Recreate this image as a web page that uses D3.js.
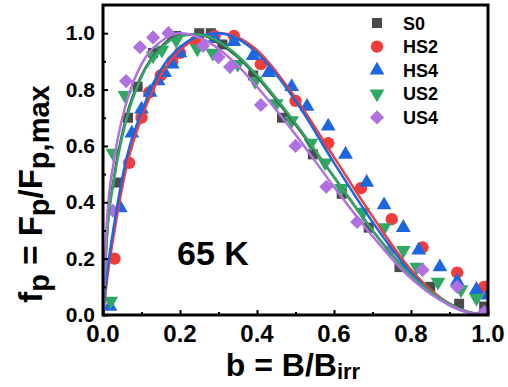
<!DOCTYPE html>
<html>
<head>
<meta charset="utf-8">
<script src="https://cdn.jsdelivr.net/npm/d3@7"></script>
<style>
  body { margin: 0; background: #fff; }
  svg { display: block; font-family: "Liberation Sans", Arial, sans-serif; font-weight: bold; }
</style>
</head>
<body>
<svg id="chart" width="508" height="387"></svg>
<script>
// series names and colours
const names = ["S0", "HS2", "HS4", "US2", "US4"];
const colors = ["#4a4a4a", "#f23c3c", "#1c67e0", "#2fa863", "#b070e0"];

// measured points [b, fp]
const S0 = [[0.04,0.47],[0.065,0.70],[0.09,0.81],[0.13,0.93],[0.19,0.99],[0.25,1.0],[0.28,1.0],[0.31,0.96],
  [0.39,0.85],[0.465,0.70],[0.545,0.57],[0.62,0.43],[0.69,0.31],[0.77,0.17],[0.85,0.10],[0.925,0.04],[0.99,0.03]];
const HS2 = [[0.03,0.20],[0.068,0.54],[0.10,0.70],[0.12,0.79],[0.15,0.85],[0.18,0.90],[0.20,0.93],[0.24,0.97],
  [0.29,0.99],[0.34,0.99],[0.41,0.89],[0.50,0.76],[0.585,0.61],[0.67,0.45],[0.75,0.34],[0.83,0.24],[0.92,0.15],[0.99,0.10]];
const HS4 = [[0.018,0.03],[0.045,0.38],[0.075,0.645],[0.10,0.73],[0.122,0.79],[0.143,0.83],[0.16,0.86],[0.18,0.89],
  [0.20,0.93],[0.29,0.98],[0.34,0.97],[0.39,0.92],[0.43,0.86],[0.49,0.81],[0.53,0.74],[0.585,0.67],[0.63,0.57],
  [0.685,0.47],[0.73,0.39],[0.78,0.31],[0.82,0.23],[0.875,0.17],[0.92,0.12],[0.97,0.09],[1.0,0.07]];
const US2 = [[0.02,0.05],[0.026,0.575],[0.057,0.78],[0.13,0.92],[0.153,0.94],[0.19,0.975],[0.245,0.945],[0.285,0.93],
  [0.35,0.89],[0.395,0.83],[0.45,0.75],[0.49,0.69],[0.54,0.61],[0.577,0.54],[0.62,0.45],[0.675,0.365],[0.73,0.31],
  [0.78,0.23],[0.815,0.17],[0.87,0.117],[0.93,0.09],[0.97,0.06]];
const US4 = [[0.026,0.37],[0.06,0.83],[0.096,0.95],[0.13,0.985],[0.17,1.0],[0.26,0.955],[0.30,0.915],[0.33,0.88],
  [0.41,0.745],[0.50,0.60],[0.58,0.455],[0.66,0.33],[0.745,0.23],[0.83,0.16],[0.92,0.10],[0.99,0.01]];

// fitted curves
const fitB   = [0, 0.01, 0.03, 0.06, 0.1, 0.15, 0.2, 0.25, 0.3, 0.35, 0.4, 0.5, 0.6, 0.7, 0.8, 0.9, 0.95, 1];
const S0fit  = [0, 0.28, 0.50, 0.70, 0.85, 0.95, 0.995, 0.995, 0.965, 0.915, 0.845, 0.675, 0.49, 0.30, 0.14, 0.04, 0.01, 0];
const HS2fit = [0, 0.12, 0.30, 0.52, 0.70, 0.85, 0.94, 0.985, 1.0, 0.985, 0.94, 0.77, 0.56, 0.35, 0.16, 0.04, 0.01, 0];
const HS4fit = [0, 0.14, 0.33, 0.55, 0.72, 0.87, 0.95, 0.99, 1.0, 0.98, 0.93, 0.76, 0.54, 0.33, 0.15, 0.035, 0.008, 0];
const US2fit = [0, 0.27, 0.49, 0.69, 0.845, 0.945, 0.99, 0.995, 0.97, 0.92, 0.85, 0.68, 0.49, 0.30, 0.14, 0.04, 0.01, 0];
const US4fit = [0, 0.33, 0.56, 0.75, 0.89, 0.97, 1.0, 0.985, 0.945, 0.885, 0.81, 0.64, 0.455, 0.28, 0.13, 0.035, 0.008, 0];

const xTicks = [0, 0.2, 0.4, 0.6, 0.8, 1.0];
const yTicks = [0, 0.2, 0.4, 0.6, 0.8, 1.0];

const points = [S0, HS2, HS4, US2, US4];
const fits = [S0fit, HS2fit, HS4fit, US2fit, US4fit];

const svg = d3.select("#chart");
const mLeft = 103, mRight = 488, mTop = 5, mBottom = 315;

const x = d3.scaleLinear().domain([0, 1]).range([mLeft, mRight]);
const y = d3.scaleLinear().domain([0, 1.1]).range([mBottom, mTop]);

// marker shapes
const shapes = [
  {type: d3.symbolSquare, size: 100, rot: 0},
  {type: d3.symbolCircle, size: 120, rot: 0},
  {type: d3.symbolTriangle, size: 95, rot: 0},
  {type: d3.symbolTriangle, size: 95, rot: 180},
  {type: d3.symbolSquare, size: 100, rot: 45}
];

svg.append("defs").append("clipPath").attr("id", "clip")
  .append("rect").attr("x", mLeft).attr("y", mTop).attr("width", mRight - mLeft).attr("height", mBottom - mTop);

const plot = svg.append("g").attr("clip-path", "url(#clip)");

// markers
points.forEach((pts, i) => {
  const sym = d3.symbol().type(shapes[i].type).size(shapes[i].size);
  plot.append("g").selectAll("path")
    .data(pts)
    .enter().append("path")
    .attr("d", sym)
    .attr("fill", colors[i])
    .attr("transform", d => `translate(${x(d[0])},${y(d[1])}) rotate(${shapes[i].rot})`);
});

// fit lines
const line = d3.line()
  .x((d, j) => x(fitB[j]))
  .y(d => y(d))
  .curve(d3.curveMonotoneX);

fits.forEach((f, i) => {
  plot.append("path")
    .attr("d", line(f))
    .attr("fill", "none")
    .attr("stroke", colors[i])
    .attr("stroke-width", 2.5);
});

// axes, ticks inward
const xAxis = svg.append("g").attr("transform", `translate(0,${mBottom})`)
  .call(d3.axisBottom(x).tickValues(d3.range(0, 1.01, 0.1)).tickSize(-5).tickFormat(""));
xAxis.selectAll(".tick line").attr("stroke-width", 2).attr("y2", (d, j) => j % 2 ? -3 : -5);
xAxis.select(".domain").remove();

const yAxis = svg.append("g").attr("transform", `translate(${mLeft},0)`)
  .call(d3.axisLeft(y).tickValues(d3.range(0, 1.01, 0.1)).tickSize(-5).tickFormat(""));
yAxis.selectAll(".tick line").attr("stroke-width", 2).attr("x2", (d, j) => j % 2 ? 3 : 5);
yAxis.select(".domain").remove();

svg.append("rect")
  .attr("x", mLeft).attr("y", mTop)
  .attr("width", mRight - mLeft).attr("height", mBottom - mTop)
  .attr("fill", "none").attr("stroke", "#000").attr("stroke-width", 3);

// tick labels
svg.append("g").selectAll("text")
  .data(xTicks)
  .enter().append("text")
  .attr("x", d => x(d))
  .attr("y", 342)
  .attr("text-anchor", "middle")
  .attr("font-size", 24)
  .text(d => d.toFixed(1));

svg.append("g").selectAll("text")
  .data(yTicks)
  .enter().append("text")
  .attr("x", 95)
  .attr("y", d => y(d) + 7)
  .attr("text-anchor", "end")
  .attr("font-size", 21)
  .text(d => d.toFixed(1));

// axis titles
const xt = svg.append("text")
  .attr("x", 293).attr("y", 376)
  .attr("text-anchor", "middle")
  .attr("font-size", 32);
xt.append("tspan").text("b = B/B");
xt.append("tspan").attr("font-size", 22).attr("dy", 3).text("irr");

const yt = svg.append("text")
  .attr("transform", "translate(42,194) rotate(-90)")
  .attr("text-anchor", "middle")
  .attr("font-size", 33);
yt.append("tspan").text("f");
yt.append("tspan").attr("font-size", 29).attr("dy", 7).text("p");
yt.append("tspan").attr("dy", -7).text(" = F");
yt.append("tspan").attr("font-size", 29).attr("dy", 7).text("p");
yt.append("tspan").attr("dy", -7).text("/F");
yt.append("tspan").attr("font-size", 29).attr("dy", 7).text("p,max");

// temperature note
svg.append("text")
  .attr("x", 177).attr("y", 265)
  .attr("font-size", 34)
  .text("65 K");

// legend
const legend = svg.append("g");
names.forEach((n, i) => {
  const ly = 23 + i * 23.6;
  legend.append("path")
    .attr("d", d3.symbol().type(shapes[i].type).size(shapes[i].size)())
    .attr("fill", colors[i])
    .attr("transform", `translate(377,${ly}) rotate(${shapes[i].rot})`);
  legend.append("text")
    .attr("x", 403).attr("y", ly + 6.5)
    .attr("font-size", 18)
    .text(n);
});
</script>
</body>
</html>
